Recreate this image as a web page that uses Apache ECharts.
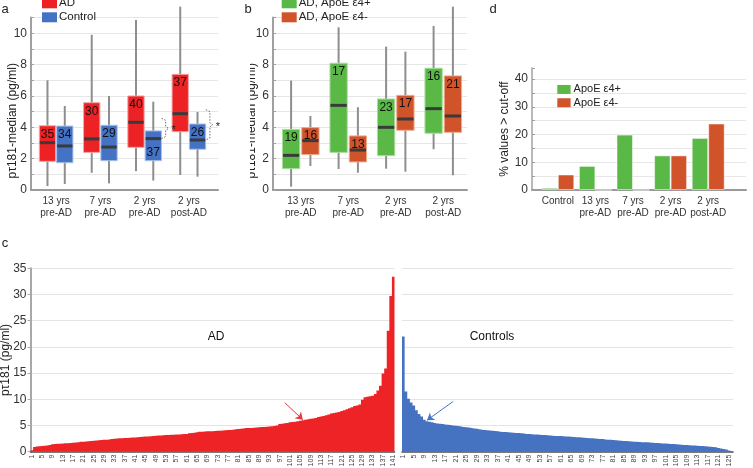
<!DOCTYPE html>
<html><head><meta charset="utf-8">
<script src="https://cdn.jsdelivr.net/npm/echarts/dist/echarts.min.js"></script>
<style>html,body{margin:0;padding:0;background:#fff}#chart{width:753px;height:468px}</style>
</head><body><div id="chart"></div>
<script>
const FONT = '"Liberation Sans", Arial, Helvetica, sans-serif';

// ---------- Panel a: AD vs Control (boxes) ----------
const stageCats = ['13 yrs\npre-AD', '7 yrs\npre-AD', '2 yrs\npre-AD', '2 yrs\npost-AD'];
const adMin = [0.25, 1.1, 1.2, 0.96];
const adQ1  = [1.83, 2.4, 2.72, 3.72];
const adMed = [3.02, 3.26, 4.32, 4.87];
const adQ3  = [4.1, 5.57, 6.0, 7.38];
const adMax = [7.0, 9.9, 10.85, 11.7];
const adN   = [35, 30, 40, 37];
const ctMin = [0.38, 0.42, 0.6, 0.85];
const ctQ1  = [1.74, 1.87, 1.87, 2.6];
const ctMed = [2.81, 2.74, 3.28, 3.19];
const ctQ3  = [4.08, 4.13, 3.77, 4.21];
const ctMax = [5.36, 6.0, 5.64, 4.98];
const ctN   = [34, 29, 37, 26];
const sigGroups = [2, 3];

// ---------- Panel b: AD by ApoE e4 (boxes) ----------
const e4pMin = [0.21, 1.34, 1.36, 2.6];
const e4pQ1  = [1.36, 2.4, 2.19, 3.62];
const e4pMed = [2.21, 5.4, 4.0, 5.19];
const e4pQ3  = [3.87, 8.09, 5.81, 7.77];
const e4pMax = [6.98, 10.38, 9.15, 10.47];
const e4pN   = [19, 17, 23, 16];
const e4mMin = [1.53, 1.1, 1.17, 0.94];
const e4mQ1  = [2.26, 1.79, 3.81, 3.68];
const e4mMed = [3.15, 2.55, 4.53, 4.72];
const e4mQ3  = [3.98, 3.45, 6.04, 7.28];
const e4mMax = [4.72, 5.28, 8.83, 11.7];
const e4mN   = [16, 13, 17, 21];

// ---------- Panel d: % values > cut-off ----------
const cutCats = ['Control', '13 yrs\npre-AD', '7 yrs\npre-AD', '2 yrs\npre-AD', '2 yrs\npost-AD'];
const cutE4p = [0.8, 8.7, 20.0, 12.5, 18.8];
const cutE4m = [5.6, 0, 0, 12.5, 24.0];

// ---------- Panel c: individual values (sorted) ----------
const adValues = [
  0.3, 0.9, 1.0, 1.05, 1.1, 1.15, 1.2, 1.3, 1.4, 1.45,
  1.5, 1.5, 1.55, 1.6, 1.62, 1.65, 1.7, 1.75, 1.8, 1.88,
  1.92, 1.95, 2.0, 2.05, 2.1, 2.15, 2.2, 2.22, 2.28, 2.3,
  2.35, 2.4, 2.45, 2.5, 2.55, 2.58, 2.6, 2.62, 2.65, 2.7,
  2.72, 2.75, 2.8, 2.85, 2.9, 2.92, 2.95, 3.0, 3.05, 3.08,
  3.1, 3.15, 3.2, 3.2, 3.22, 3.25, 3.3, 3.3, 3.35, 3.38,
  3.4, 3.5, 3.55, 3.6, 3.7, 3.8, 3.82, 3.85, 3.88, 3.9,
  3.92, 3.95, 4.0, 4.02, 4.05, 4.1, 4.12, 4.15, 4.2, 4.3,
  4.35, 4.4, 4.45, 4.5, 4.5, 4.52, 4.55, 4.6, 4.65, 4.7,
  4.72, 4.75, 4.8, 4.85, 4.9, 5.0, 5.3, 5.35, 5.45, 5.5,
  5.6, 5.65, 5.7, 5.8, 5.9, 6.0, 6.1, 6.2, 6.3, 6.35,
  6.45, 6.6, 6.7, 6.8, 6.95, 7.1, 7.3, 7.4, 7.5, 7.6,
  7.75, 7.9, 8.1, 8.3, 8.5, 8.7, 8.8, 9.0, 9.9, 10.4,
  10.5, 10.6, 10.7, 11.0, 11.7, 12.6, 14.9, 15.9, 23.1, 29.7, 33.4
];
const ctValues = [
  22.0, 11.5, 10.1, 9.4, 8.8, 7.9, 7.2, 6.7, 6.1, 5.8,
  5.7, 5.6, 5.5, 5.4, 5.35, 5.3, 5.2, 5.15, 5.1, 5.0,
  4.95, 4.9, 4.8, 4.7, 4.65, 4.6, 4.5, 4.45, 4.4, 4.3,
  4.2, 4.15, 4.1, 4.05, 4.0, 3.95, 3.9, 3.8, 3.78, 3.75,
  3.7, 3.65, 3.6, 3.58, 3.55, 3.5, 3.45, 3.4, 3.38, 3.35,
  3.3, 3.28, 3.25, 3.2, 3.18, 3.15, 3.1, 3.05, 3.02, 3.0,
  2.98, 2.95, 2.92, 2.9, 2.85, 2.8, 2.78, 2.75, 2.7, 2.65,
  2.6, 2.58, 2.55, 2.5, 2.45, 2.42, 2.4, 2.35, 2.3, 2.28,
  2.25, 2.2, 2.15, 2.1, 2.05, 2.02, 2.0, 1.95, 1.9, 1.88,
  1.85, 1.82, 1.8, 1.78, 1.75, 1.7, 1.68, 1.65, 1.6, 1.58,
  1.55, 1.5, 1.48, 1.45, 1.4, 1.38, 1.35, 1.3, 1.28, 1.25,
  1.2, 1.18, 1.15, 1.1, 1.08, 1.05, 1.0, 0.95, 0.9, 0.85,
  0.7, 0.6, 0.5, 0.4, 0.25, 0.15
];
const adIdx = adValues.map((_, i) => String(i + 1));
const ctIdx = ctValues.map((_, i) => String(i + 1));

// ---------- helpers ----------
function rows(mn, q1, md, q3, mx, n) {
  return mn.map((_, i) => [i, mn[i], q1[i], md[i], q3[i], mx[i], n[i]]);
}
function boxSeries(name, axisIdx, data, color, border, side, W, gap) {
  return {
    type: 'custom', name: name, xAxisIndex: axisIdx, yAxisIndex: axisIdx,
    itemStyle: { color: color }, encode: { x: 0, y: [1, 2, 3, 4, 5] },
    data: data, clip: false,
    renderItem: function (params, api) {
      const c = api.value(0);
      const pt = v => api.coord([c, v]);
      const x = pt(api.value(1))[0] + side * (W / 2 + gap / 2);
      const yMin = pt(api.value(1))[1], yQ1 = pt(api.value(2))[1], yMed = pt(api.value(3))[1];
      const yQ3 = pt(api.value(4))[1], yMax = pt(api.value(5))[1];
      const onTop = (yMed - yQ3) >= 11;
      const ly = onTop ? yQ3 + 8.5 : yQ1 - 8;
      return { type: 'group', children: [
        { type: 'line', shape: { x1: x, y1: yMax, x2: x, y2: yMin }, style: { stroke: '#8e8e8e', lineWidth: 2 } },
        { type: 'rect', shape: { x: x - W / 2, y: yQ3, width: W, height: yQ1 - yQ3 }, style: { fill: color, stroke: border, lineWidth: 1 } },
        { type: 'line', shape: { x1: x - W / 2 + 0.5, y1: yMed, x2: x + W / 2 - 0.5, y2: yMed }, style: { stroke: '#3a3a3a', lineWidth: 3 } },
        { type: 'text', style: { text: String(api.value(6)), x: x, y: ly, fill: '#111', font: '12px ' + FONT,
          align: 'center', verticalAlign: 'middle', textAlign: 'center', textVerticalAlign: 'middle' } }
      ] };
    }
  };
}
function frameX(g) {
  return { gridIndex: g, type: 'value', min: 0, max: 1,
    axisLine: { show: true, lineStyle: { color: '#9a9a9a', width: 2 } },
    axisTick: { show: false }, axisLabel: { show: false }, splitLine: { show: false } };
}
function catX(g, cats) {
  return { gridIndex: g, type: 'category', data: cats,
    axisLine: { show: false }, axisTick: { show: false },
    axisLabel: { fontSize: 10, lineHeight: 12, color: '#333', margin: 5, fontFamily: FONT, interval: 0 },
    splitLine: { show: false } };
}
function boxFrameY(g, gap) {
  return { gridIndex: g, type: 'value', min: 0, max: 11, interval: 1,
    name: 'pτ181-median (pg/ml)', nameLocation: 'middle', nameGap: gap, nameMoveOverlap: false,
    nameTextStyle: { fontSize: 12, color: '#222', fontFamily: FONT, padding: [0, 34, 0, 0] },
    axisLine: { show: true, lineStyle: { color: '#a0a0a0', width: 2 } },
    axisTick: { show: true, inside: true, length: 3, lineStyle: { color: '#a0a0a0' } },
    axisLabel: { formatter: v => (v % 2 === 0 ? String(v) : ''), fontSize: 12, color: '#333', margin: 4, fontFamily: FONT },
    splitLine: { show: true, lineStyle: { color: '#e6e6e6', width: 1 } } };
}
function hiddenY(g, max) {
  return { gridIndex: g, type: 'value', min: 0, max: max, show: false, splitLine: { show: false } };
}

const RED = '#ed2225', BLUE = '#4472c4', GREEN = '#5ab946', ORANGE = '#d0532a';
const CRED = '#ee2326', CBLUE = '#4672c2';

const option = {
  animation: false,
  backgroundColor: '#fff',
  textStyle: { fontFamily: FONT },
  grid: [
    { left: 31, top: 17.6, width: 187, height: 172.4, outerBoundsMode: 'none' },
    { left: 34, top: 17.6, width: 177, height: 172.4, outerBoundsMode: 'none' },
    { left: 273, top: 17.6, width: 194, height: 172.4, outerBoundsMode: 'none' },
    { left: 277, top: 17.6, width: 190, height: 172.4, outerBoundsMode: 'none' },
    { left: 532, top: 68.1, width: 214, height: 121.9, outerBoundsMode: 'none' },
    { left: 539, top: 68.1, width: 188, height: 121.9, outerBoundsMode: 'none' },
    { left: 30.5, top: 268.3, width: 364, height: 183.4, outerBoundsMode: 'none' },
    { left: 402, top: 268.3, width: 331, height: 183.4, outerBoundsMode: 'none' }
  ],
  xAxis: [
    frameX(0), catX(1, stageCats), frameX(2), catX(3, stageCats), frameX(4), catX(5, cutCats),
    { gridIndex: 6, type: 'category', data: adIdx,
      axisLine: { show: true, lineStyle: { color: '#4d4d4d', width: 1.5 } }, axisTick: { show: false },
      axisLabel: { interval: 3, rotate: 90, fontSize: 7, margin: 3, color: '#444', fontFamily: FONT } },
    { gridIndex: 7, type: 'category', data: ctIdx,
      axisLine: { show: true, lineStyle: { color: '#4d4d4d', width: 1.5 } }, axisTick: { show: false },
      axisLabel: { interval: 3, rotate: 90, fontSize: 7, margin: 3, color: '#444', fontFamily: FONT } }
  ],
  yAxis: [
    boxFrameY(0, 12), hiddenY(1, 11), boxFrameY(2, 15), hiddenY(3, 11),
    { gridIndex: 4, type: 'value', min: 0, max: 44, interval: 5,
      name: '% values > cut-off', nameLocation: 'middle', nameGap: 21, nameMoveOverlap: false,
      nameTextStyle: { fontSize: 12, color: '#222', fontFamily: FONT },
      axisLine: { show: true, lineStyle: { color: '#a0a0a0', width: 1.5 } },
      axisTick: { show: true, inside: true, length: 3, lineStyle: { color: '#a0a0a0' } },
      axisLabel: { formatter: v => (v % 10 === 0 ? String(v) : ''), fontSize: 12, color: '#333', margin: 4, fontFamily: FONT },
      splitLine: { show: true, showMaxLine: false, lineStyle: { color: '#e6e6e6' } } },
    hiddenY(5, 44),
    { gridIndex: 6, type: 'value', min: 0, max: 35, interval: 5,
      name: 'pτ181 (pg/ml)', nameLocation: 'middle', nameGap: 18.5, nameMoveOverlap: false,
      nameTextStyle: { fontSize: 12, color: '#222', fontFamily: FONT },
      axisLine: { show: true, lineStyle: { color: '#a8a8a8', width: 2 } },
      axisTick: { show: true, length: 3, lineStyle: { color: '#a8a8a8' } },
      axisLabel: { fontSize: 12, color: '#333', margin: 4, fontFamily: FONT },
      splitLine: { show: true, lineStyle: { color: '#e4e4e4' } } },
    { gridIndex: 7, type: 'value', min: 0, max: 35, interval: 5,
      axisLine: { show: false }, axisTick: { show: false }, axisLabel: { show: false },
      splitLine: { show: true, lineStyle: { color: '#e4e4e4' } } }
  ],
  legend: [
    { data: ['AD', 'Control'], orient: 'vertical', left: 42, top: -3.7, padding: 0, itemGap: 0,
      itemWidth: 15, itemHeight: 10, icon: 'rect', itemStyle: { borderWidth: 0 },
      textStyle: { fontSize: 11.5, lineHeight: 14, color: '#222', fontFamily: FONT, padding: [0, 0, 0, -3] } },
    { data: ['AD, ApoE ε4+', 'AD, ApoE ε4-'], orient: 'vertical', left: 281.7, top: -3.7, padding: 0, itemGap: 0,
      itemWidth: 15, itemHeight: 10, icon: 'rect', itemStyle: { borderWidth: 0 },
      textStyle: { fontSize: 11.5, lineHeight: 14, color: '#222', fontFamily: FONT, padding: [0, 0, 0, -3] } },
    { data: ['ApoE ε4+', 'ApoE ε4-'], orient: 'vertical', left: 557.3, top: 82.8, padding: 0, itemGap: 0,
      itemWidth: 13.3, itemHeight: 9, icon: 'rect', itemStyle: { borderWidth: 0 },
      textStyle: { fontSize: 11, lineHeight: 13.3, color: '#222', fontFamily: FONT, padding: [0, 0, 0, -2] } }
  ],
  series: [
    boxSeries('AD', 1, rows(adMin, adQ1, adMed, adQ3, adMax, adN), RED, '#f6a5a6', -1, 16.3, 1),
    boxSeries('Control', 1, rows(ctMin, ctQ1, ctMed, ctQ3, ctMax, ctN), BLUE, '#a9c0e7', 1, 16.3, 1),
    { type: 'custom', name: 'sig', xAxisIndex: 1, yAxisIndex: 1, silent: true, clip: false,
      encode: { x: 0, y: [1, 2] },
      data: sigGroups.map(i => [i, ctMed[i], adMed[i]]),
      renderItem: function (params, api) {
        const c = api.value(0);
        const p1 = api.coord([c, api.value(1)]), p2 = api.coord([c, api.value(2)]);
        const x = p1[0] + 21, yb = p1[1], yt = p2[1] - 4, ym = (yb + yt) / 2;
        return { type: 'group', children: [
          { type: 'polyline', shape: { points: [[x - 4, yt], [x, yt + 2], [x, ym - 2], [x + 3, ym], [x, ym + 2], [x, yb - 2], [x - 4, yb]] },
            style: { stroke: '#6f6f6f', lineWidth: 1, lineDash: [1.5, 1.5], fill: null } },
          { type: 'text', style: { text: '*', x: x + 8, y: ym + 2, font: '11px ' + FONT, fill: '#222',
            align: 'center', verticalAlign: 'middle', textAlign: 'center', textVerticalAlign: 'middle' } }
        ] };
      } },
    boxSeries('AD, ApoE ε4+', 3, rows(e4pMin, e4pQ1, e4pMed, e4pQ3, e4pMax, e4pN), GREEN, '#aadd9e', -1, 17.3, 2),
    boxSeries('AD, ApoE ε4-', 3, rows(e4mMin, e4mQ1, e4mMed, e4mQ3, e4mMax, e4mN), ORANGE, '#eeaa90', 1, 17.3, 2),
    { type: 'bar', name: 'ApoE ε4+', xAxisIndex: 5, yAxisIndex: 5, data: cutE4p, barWidth: 16.5, barGap: '0%',
      itemStyle: { color: GREEN, borderColor: 'rgba(255,255,255,0.5)', borderWidth: 1 } },
    { type: 'bar', name: 'ApoE ε4-', xAxisIndex: 5, yAxisIndex: 5, data: cutE4m, barWidth: 16.5, barGap: '0%',
      itemStyle: { color: ORANGE, borderColor: 'rgba(255,255,255,0.5)', borderWidth: 1 } },
    { type: 'bar', name: 'AD individual', xAxisIndex: 6, yAxisIndex: 6, data: adValues, barCategoryGap: '0%',
      large: true, largeThreshold: 50,
      itemStyle: { color: CRED },
      markLine: { silent: true, symbol: ['none', 'arrow'], symbolSize: 7, label: { show: false },
        lineStyle: { color: '#e8393b', width: 1, type: 'solid' },
        data: [[{ coord: ['99', 9.35] }, { coord: ['106', 6.1] }]] } },
    { type: 'bar', name: 'Control individual', xAxisIndex: 7, yAxisIndex: 7, data: ctValues, barCategoryGap: '0%',
      large: true, largeThreshold: 50,
      itemStyle: { color: CBLUE },
      markLine: { silent: true, symbol: ['none', 'arrow'], symbolSize: 7, label: { show: false },
        lineStyle: { color: '#4a74c4', width: 1, type: 'solid' },
        data: [[{ coord: ['20', 9.6] }, { coord: ['10', 6.0] }]] } }
  ],
  graphic: [
    { type: 'rect', shape: { x: 232, y: 30, width: 18, height: 160 }, style: { fill: '#fff' }, z: 100 },
    { type: 'text', x: 5, y: 9, z: 101, style: { text: 'a', font: '13px ' + FONT, fill: '#222', align: 'center', verticalAlign: 'middle', textAlign: 'center', textVerticalAlign: 'middle' } },
    { type: 'text', x: 248, y: 9, z: 101, style: { text: 'b', font: '13px ' + FONT, fill: '#222', align: 'center', verticalAlign: 'middle', textAlign: 'center', textVerticalAlign: 'middle' } },
    { type: 'text', x: 493, y: 9, z: 101, style: { text: 'd', font: '13px ' + FONT, fill: '#222', align: 'center', verticalAlign: 'middle', textAlign: 'center', textVerticalAlign: 'middle' } },
    { type: 'text', x: 5, y: 243, z: 101, style: { text: 'c', font: '13px ' + FONT, fill: '#222', align: 'center', verticalAlign: 'middle', textAlign: 'center', textVerticalAlign: 'middle' } },
    { type: 'text', x: 216, y: 337, z: 101, style: { text: 'AD', font: '12px ' + FONT, fill: '#111', align: 'center', verticalAlign: 'middle', textAlign: 'center', textVerticalAlign: 'middle' } },
    { type: 'text', x: 492, y: 337, z: 101, style: { text: 'Controls', font: '12px ' + FONT, fill: '#111', align: 'center', verticalAlign: 'middle', textAlign: 'center', textVerticalAlign: 'middle' } }
  ]
};

const chart = echarts.init(document.getElementById('chart'), null, { renderer: 'canvas' });
chart.setOption(option);
</script>
</body></html>
